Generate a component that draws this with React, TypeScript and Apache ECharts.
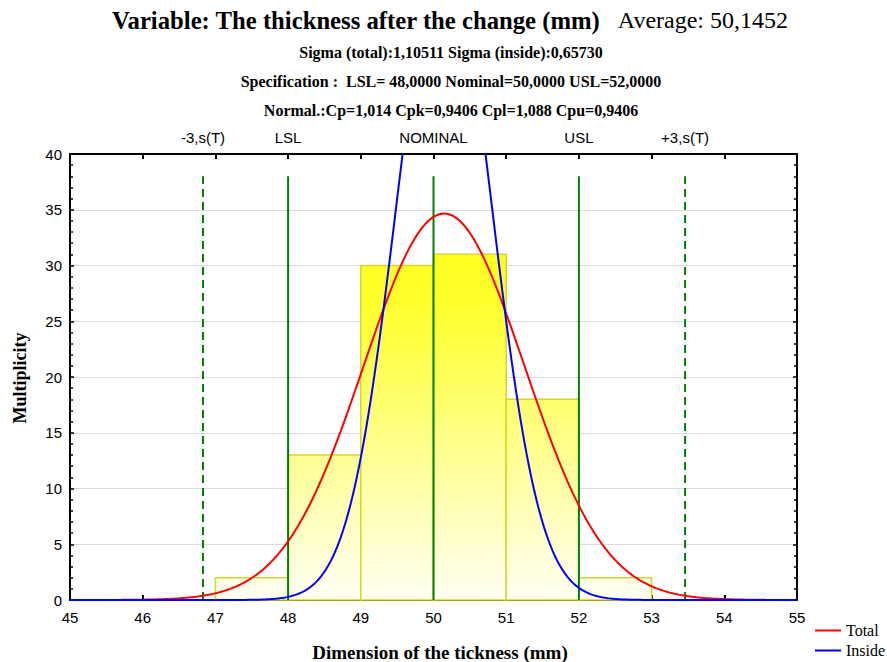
import React, { useEffect, useRef } from "react";
import * as echarts from "echarts";

// ---- data ----
const BIN_EDGES = [47, 48, 49, 50, 51, 52, 53];
const BIN_COUNTS = [2, 13, 30, 31, 18, 2];
const MEAN = 50.1452;
const SIGMA_TOTAL = 1.10511;
const SIGMA_INSIDE = 0.6573;
const LIMIT_LABELS = ["-3,s(T)", "LSL", "NOMINAL", "USL", "+3,s(T)"];
const LIMIT_VALUES = [MEAN - 3 * SIGMA_TOTAL, 48, 50, 52, MEAN + 3 * SIGMA_TOTAL];
const LIMIT_DASHED = [true, false, false, false, true];
const LIMIT_TOP = 38;
const X_MIN = 45;
const X_MAX = 55;
const Y_MIN = 0;
const Y_MAX = 40;
const TITLE_MAIN = "Variable: The thickness after the change (mm)";
const TITLE_AVG = "Average: 50,1452";
const SUB_LINES = [
  "Sigma (total):1,10511 Sigma (inside):0,65730",
  "Specification :  LSL= 48,0000 Nominal=50,0000 USL=52,0000",
  "Normal.:Cp=1,014 Cpk=0,9406 Cpl=1,088 Cpu=0,9406",
];
const X_NAME = "Dimension of the tickness (mm)";
const Y_NAME = "Multiplicity";

// fitted normal curves (scaled to counts x bin width), computed from the stated parameters
const N_TOTAL = BIN_COUNTS.reduce((a, b) => a + b, 0);
const BIN_WIDTH = 1;
function normalCurve(mu: number, sigma: number): number[][] {
  const pts: number[][] = [];
  const steps = 500;
  for (let i = 0; i <= steps; i++) {
    const x = X_MIN + ((X_MAX - X_MIN) * i) / steps;
    const z = (x - mu) / sigma;
    const y = (N_TOTAL * BIN_WIDTH * Math.exp(-0.5 * z * z)) / (sigma * Math.sqrt(2 * Math.PI));
    pts.push([x, y]);
  }
  return pts;
}

export default function App() {
  const ref = useRef<HTMLDivElement>(null);
  useEffect(() => {
    const chart = echarts.init(ref.current!, null, { renderer: "svg" });
    const gradient = new echarts.graphic.LinearGradient(
      0, 154, 0, 600,
      [
        { offset: 0, color: "#ffff00" },
        { offset: 0.35, color: "#ffff30" },
        { offset: 1, color: "#fffff4" },
      ],
      true
    );
    const barData = BIN_COUNTS.map((c, i) => [BIN_EDGES[i], BIN_EDGES[i + 1], c]);
    const sansLabel = { fontFamily: "Liberation Sans", fontSize: 15, color: "#000" };

    const limitSeries = LIMIT_VALUES.map((v, i) => ({
      type: "line",
      name: LIMIT_LABELS[i],
      data: [[v, 0], [v, LIMIT_TOP]],
      symbol: "none",
      silent: true,
      z: 3,
      lineStyle: {
        color: "#008000",
        width: 2,
        type: LIMIT_DASHED[i] ? [8, 5] : "solid",
      },
    }));

    const option: any = {
      animation: false,
      backgroundColor: "#fff",
      grid: { left: 70, right: 90, top: 154, bottom: 62, containLabel: false },
      legend: {
        data: [
          { name: "Total", icon: "rect" },
          { name: "Inside", icon: "rect" },
        ],
        orient: "vertical",
        left: 815,
        top: 622,
        padding: 0,
        itemWidth: 26,
        itemHeight: 2,
        itemGap: 3,
        textStyle: { fontFamily: "Liberation Serif", fontSize: 16, color: "#000", lineHeight: 17 },
      },
      xAxis: [
        {
          type: "value",
          min: X_MIN,
          max: X_MAX,
          interval: 1,
          position: "bottom",
          axisLine: { show: true, onZero: false, lineStyle: { color: "#000", width: 2 } },
          axisTick: { show: true, inside: true, length: 5, lineStyle: { color: "#000", width: 2 } },
          axisLabel: { ...sansLabel, margin: 10 },
          splitLine: { show: false },
        },
        {
          type: "value",
          min: X_MIN,
          max: X_MAX,
          interval: 1,
          position: "top",
          axisLine: { show: true, onZero: false, lineStyle: { color: "#000", width: 2 } },
          axisTick: { show: true, inside: true, length: 5, lineStyle: { color: "#000", width: 2 } },
          axisLabel: { show: false },
          splitLine: { show: false },
        },
      ],
      yAxis: [
        {
          type: "value",
          min: Y_MIN,
          max: Y_MAX,
          interval: 5,
          position: "left",
          axisLine: { show: true, onZero: false, lineStyle: { color: "#000", width: 2 } },
          axisTick: { show: true, inside: true, length: 4, lineStyle: { color: "#000", width: 1.5 } },
          minorTick: { show: true, splitNumber: 5, length: 3, lineStyle: { color: "#000", width: 1.5 } },
          axisLabel: { ...sansLabel, margin: 8 },
          splitLine: { show: true, lineStyle: { color: "#dadada", width: 1 } },
        },
        {
          type: "value",
          min: Y_MIN,
          max: Y_MAX,
          interval: 5,
          position: "right",
          axisLine: { show: true, onZero: false, lineStyle: { color: "#000", width: 2 } },
          axisTick: { show: true, inside: true, length: 4, lineStyle: { color: "#000", width: 1.5 } },
          minorTick: { show: true, splitNumber: 5, length: 3, lineStyle: { color: "#000", width: 1.5 } },
          axisLabel: { show: false },
          splitLine: { show: false },
        },
      ],
      series: [
        {
          type: "custom",
          name: "Histogram",
          xAxisIndex: 0,
          yAxisIndex: 0,
          data: barData,
          encode: { x: [0, 1], y: 2 },
          z: 2,
          renderItem: (params: any, api: any) => {
            const p0 = api.coord([api.value(0), api.value(2)]);
            const p1 = api.coord([api.value(1), 0]);
            return {
              type: "rect",
              shape: { x: p0[0], y: p0[1], width: p1[0] - p0[0], height: p1[1] - p0[1] },
              style: { fill: gradient, stroke: "#d6d62a", lineWidth: 1.5 },
            };
          },
        },
        ...limitSeries,
        {
          type: "line",
          name: "Total",
          data: normalCurve(MEAN, SIGMA_TOTAL),
          symbol: "none",
          z: 4,
          lineStyle: { color: "#ff0000", width: 2 },
          itemStyle: { color: "#ff0000" },
        },
        {
          type: "line",
          name: "Inside",
          data: normalCurve(MEAN, SIGMA_INSIDE),
          symbol: "none",
          z: 4,
          clip: true,
          lineStyle: { color: "#0000ff", width: 2 },
          itemStyle: { color: "#0000ff" },
        },
      ],
    };
    chart.setOption(option);

    const serifBold = "bold 16px 'Liberation Serif'";
    const limitLabels = LIMIT_LABELS.map((t, i) => ({
      type: "text",
      x: chart.convertToPixel({ xAxisIndex: 0 }, LIMIT_VALUES[i]) as number,
      y: 137,
      style: {
        text: t,
        font: "15px 'Liberation Sans'",
        fill: "#000",
        textAlign: "center",
        textVerticalAlign: "middle",
      },
    }));
    const graphics: any[] = [
      {
        type: "text",
        x: 112,
        y: 20,
        style: {
          text: TITLE_MAIN,
          font: "bold 24.7px 'Liberation Serif'",
          fill: "#000",
          textAlign: "left",
          textVerticalAlign: "middle",
        },
      },
      {
        type: "text",
        x: 788,
        y: 20,
        style: {
          text: TITLE_AVG,
          font: "24px 'Liberation Serif'",
          fill: "#000",
          textAlign: "right",
          textVerticalAlign: "middle",
        },
      },
      ...SUB_LINES.map((t, i) => ({
        type: "text",
        x: 451,
        y: 52 + i * 29,
        style: { text: t, font: serifBold, fill: "#000", textAlign: "center", textVerticalAlign: "middle" },
      })),
      {
        type: "text",
        x: 440,
        y: 652,
        style: { text: X_NAME, font: "bold 19px 'Liberation Serif'", fill: "#000", textAlign: "center", textVerticalAlign: "middle" },
      },
      {
        type: "text",
        x: 20,
        y: 378,
        rotation: Math.PI / 2,
        style: { text: Y_NAME, font: "bold 18px 'Liberation Serif'", fill: "#000", textAlign: "center", textVerticalAlign: "middle" },
      },
      ...limitLabels,
    ];
    chart.setOption({ graphic: graphics });
    return () => chart.dispose();
  }, []);
  return <div ref={ref} style={{ position: "fixed", left: 0, top: 0, width: 887, height: 662 }} />;
}
